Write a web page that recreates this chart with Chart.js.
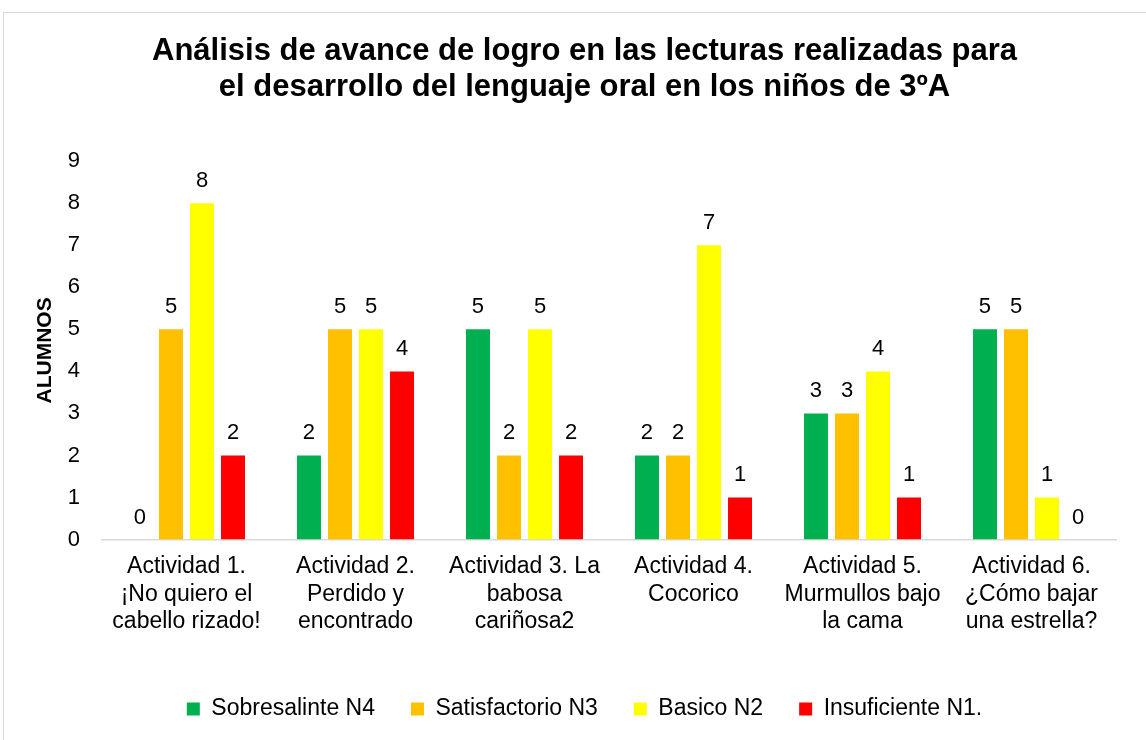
<!DOCTYPE html>
<html>
<head>
<meta charset="utf-8">
<script src="https://cdn.jsdelivr.net/npm/chart.js@4/dist/chart.umd.min.js"></script>
<style>
  html, body { margin: 0; padding: 0; background: #ffffff; overflow: hidden; }
  #frame { position: absolute; left: 3px; top: 12px; width: 1200px; height: 800px; border: 1px solid #d9d9d9; box-sizing: border-box; }
  #c { position: absolute; left: 0; top: 0; }
</style>
</head>
<body>
<div id="frame"></div>
<canvas id="c" width="1146" height="740"></canvas>
<script>
const FONT = '"Liberation Sans", Arial, sans-serif';

const titleLines = [
  'Análisis de avance de logro en las lecturas realizadas para',
  'el desarrollo del lenguaje oral en los niños de 3ºA'
];
const yAxisTitle = 'ALUMNOS';

const categories = [
  ['Actividad 1.', '¡No quiero el', 'cabello rizado!'],
  ['Actividad 2.', 'Perdido y', 'encontrado'],
  ['Actividad 3. La', 'babosa', 'cariñosa2'],
  ['Actividad 4.', 'Cocorico'],
  ['Actividad 5.', 'Murmullos bajo', 'la cama'],
  ['Actividad 6.', '¿Cómo bajar', 'una estrella?']
];

const seriesNames = ['Sobresalinte N4', 'Satisfactorio N3', 'Basico N2', 'Insuficiente N1.'];
const sobresaliente = [0, 2, 5, 2, 3, 5];
const satisfactorio = [5, 5, 2, 2, 3, 5];
const basico = [8, 5, 5, 7, 4, 1];
const insuficiente = [2, 4, 2, 1, 1, 0];
const seriesColors = ['#00B050', '#FFC000', '#FFFF00', '#FF0000'];

const yMin = 0, yMax = 9, yStep = 1;

const seriesValues = [sobresaliente, satisfactorio, basico, insuficiente];

const valueLabels = {
  id: 'valueLabels',
  afterDatasetsDraw(chart) {
    const ctx = chart.ctx;
    ctx.save();
    ctx.font = '22px ' + FONT;
    ctx.fillStyle = '#000000';
    ctx.textAlign = 'center';
    ctx.textBaseline = 'alphabetic';
    chart.data.datasets.forEach((ds, i) => {
      const meta = chart.getDatasetMeta(i);
      meta.data.forEach((el, j) => {
        ctx.fillText(String(ds.data[j]), el.x, el.y - 16);
      });
    });
    ctx.restore();
  }
};

new Chart(document.getElementById('c'), {
  type: 'bar',
  data: {
    labels: categories,
    datasets: seriesNames.map((name, i) => ({
      label: name,
      data: seriesValues[i],
      backgroundColor: seriesColors[i],
      borderWidth: 0,
      categoryPercentage: 0.734,
      barPercentage: 0.774
    }))
  },
  options: {
    responsive: false,
    animation: false,
    devicePixelRatio: 1,
    layout: { padding: { left: 23, right: 0, top: 0, bottom: 9.5 } },
    plugins: {
      title: {
        display: true,
        text: titleLines,
        color: '#000000',
        font: { family: FONT, size: 31, weight: 'bold', lineHeight: 1.18 },
        padding: { top: 32.7, bottom: 55.4 }
      },
      legend: {
        position: 'bottom',
        labels: {
          color: '#000000',
          font: { family: FONT, size: 23 },
          boxWidth: 13,
          boxHeight: 13,
          padding: 36
        }
      },
      tooltip: { enabled: false }
    },
    scales: {
      x: {
        grid: { display: false, drawTicks: false },
        border: { display: true, color: '#d9d9d9', width: 1.5 },
        ticks: {
          color: '#000000',
          font: { family: FONT, size: 23, lineHeight: 1.2 },
          padding: 13.6,
          maxRotation: 0,
          autoSkip: false
        },
        afterFit: (s) => { s.height = 122; }
      },
      y: {
        min: yMin,
        max: yMax,
        grid: { display: false, drawTicks: false },
        border: { display: false },
        ticks: {
          stepSize: yStep,
          color: '#000000',
          font: { family: FONT, size: 22 },
          padding: 22
        },
        title: {
          display: true,
          text: yAxisTitle,
          color: '#000000',
          font: { family: FONT, size: 21, weight: 'bold', lineHeight: 1.2 },
          padding: { top: 9.9, bottom: 0 }
        },
        afterFit: (s) => { s.width = 79; }
      },
      yRight: {
        position: 'right',
        display: true,
        grid: { display: false, drawTicks: false },
        border: { display: false },
        ticks: { display: false },
        afterFit: (s) => { s.width = 30; }
      }
    }
  },
  plugins: [valueLabels]
});
</script>
</body>
</html>
